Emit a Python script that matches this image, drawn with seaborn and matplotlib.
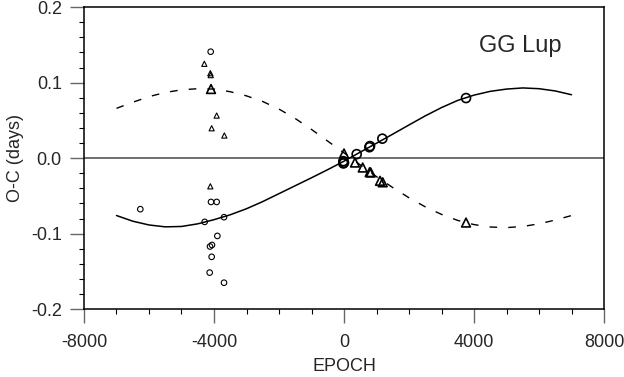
import matplotlib
matplotlib.use("Agg")
import matplotlib.pyplot as plt
from matplotlib.ticker import MultipleLocator
import seaborn as sns

# courbes (pas de 500 époques)
COURBE_X = [-7000, -6500, -6000, -5500, -5000, -4500, -4000, -3500, -3000, -2500,
            -2000, -1500, -1000, -500, 0, 500, 1000, 1500, 2000, 2500,
            3000, 3500, 4000, 4500, 5000, 5500, 6000, 6500, 7000]
COURBE_PLEINE = [-0.076, -0.0835, -0.0885, -0.091, -0.0905, -0.087, -0.0815, -0.075, -0.067, -0.0575,
                 -0.047, -0.0365, -0.026, -0.0152, -0.004, 0.008, 0.0198, 0.0318, 0.044, 0.056,
                 0.067, 0.0765, 0.0835, 0.0885, 0.0915, 0.093, 0.092, 0.089, 0.084]
COURBE_TIRETS = [0.066, 0.074, 0.0815, 0.087, 0.0905, 0.092, 0.0915, 0.088, 0.0825, 0.075,
                 0.065, 0.0525, 0.038, 0.0225, 0.007, -0.009, -0.0245, -0.039, -0.0525, -0.0645,
                 -0.0745, -0.0825, -0.088, -0.0912, -0.092, -0.0905, -0.087, -0.082, -0.076]

# petits symboles
PETITS_CERCLES_X = [-4102, -4092, -3918, -6267, -4287, -3692, -3897, -4123, -4062, -4072, -4133, -3692]
PETITS_CERCLES_Y = [0.141, -0.058, -0.058, -0.0676, -0.0844, -0.0782, -0.103, -0.117, -0.115, -0.1307, -0.1516, -0.165]
PETITS_TRIANGLES_X = [-4298, -4113, -4100, -3918, -4072, -3682, -4113]
PETITS_TRIANGLES_Y = [0.125, 0.1125, 0.110, 0.0564, 0.0396, 0.030, -0.0373]

# grands symboles
GRANDS_CERCLES_X = [-20, -20, 0, 390, 800, 780, 1179, 3754]
GRANDS_CERCLES_Y = [-0.004, -0.007, -0.006, 0.0053, 0.016, 0.0145, 0.0258, 0.0796]
GRANDS_TRIANGLES_X = [-4092, 0, 338, 575, 821, 790, 1108, 1190, 3754]
GRANDS_TRIANGLES_Y = [0.0916, 0.0062, -0.0058, -0.0124, -0.019, -0.0185, -0.030, -0.032, -0.0853]

X_TICKS = [-8000, -4000, 0, 4000, 8000]
X_LABELS = ["-8000", "-4000", "0", "4000", "8000"]
Y_TICKS = [-0.2, -0.1, 0.0, 0.1, 0.2]
Y_LABELS = ["-0.2", "-0.1", "0.0", "0.1", "0.2"]

sns.set_style("white")
plt.rcParams["font.family"] = ["Liberation Sans", "DejaVu Sans"]

fig, ax = plt.subplots(figsize=(6.24, 3.77), dpi=100)
fig.subplots_adjust(left=0.1346, right=0.968, top=0.981, bottom=0.180)

# ligne du zéro en gris
ax.axhline(0, color="#555555", lw=1.2, zorder=1)

sns.lineplot(x=COURBE_X, y=COURBE_PLEINE, color="black", lw=1.1, ax=ax, zorder=2)
sns.lineplot(x=COURBE_X, y=COURBE_TIRETS, color="black", lw=1.0, ax=ax, zorder=2,
             linestyle=(0, (5.5, 8)))

sns.scatterplot(x=PETITS_CERCLES_X, y=PETITS_CERCLES_Y, marker="o", s=16,
                facecolor="none", edgecolor="black", linewidth=0.8, ax=ax, zorder=3)
sns.scatterplot(x=PETITS_TRIANGLES_X, y=PETITS_TRIANGLES_Y, marker="^", s=14,
                facecolor="none", edgecolor="black", linewidth=0.8, ax=ax, zorder=3)
sns.scatterplot(x=GRANDS_CERCLES_X, y=GRANDS_CERCLES_Y, marker="o", s=42,
                facecolor="none", edgecolor="black", linewidth=1.2, ax=ax, zorder=3)
sns.scatterplot(x=GRANDS_TRIANGLES_X, y=GRANDS_TRIANGLES_Y, marker="^", s=40,
                facecolor="none", edgecolor="black", linewidth=1.2, ax=ax, zorder=3)

ax.set_xlim(-8000, 8000)
ax.set_ylim(-0.2, 0.2)
ax.set_xticks(X_TICKS)
ax.set_xticklabels(X_LABELS)
ax.set_yticks(Y_TICKS)
ax.set_yticklabels(Y_LABELS)
ax.xaxis.set_minor_locator(MultipleLocator(1000))
ax.yaxis.set_minor_locator(MultipleLocator(0.02))

ax.tick_params(which="major", direction="out", length=10, width=1, color="#666666",
               labelsize=13, pad=8, bottom=True, left=True)
ax.tick_params(which="minor", direction="out", length=3.5, width=0.8, color="black",
               bottom=True, left=True)
ax.tick_params(axis="y", which="major", pad=6)

for sp in ax.spines.values():
    sp.set_color("black")
    sp.set_linewidth(1.1)

ax.set_xlabel("EPOCH", fontsize=13, labelpad=5)
ax.set_ylabel("O-C (days)", fontsize=13, labelpad=5)
ax.text(5415, 0.148, "GG Lup", fontsize=17, ha="center", va="center")

fig.savefig("out.png", dpi=100)
